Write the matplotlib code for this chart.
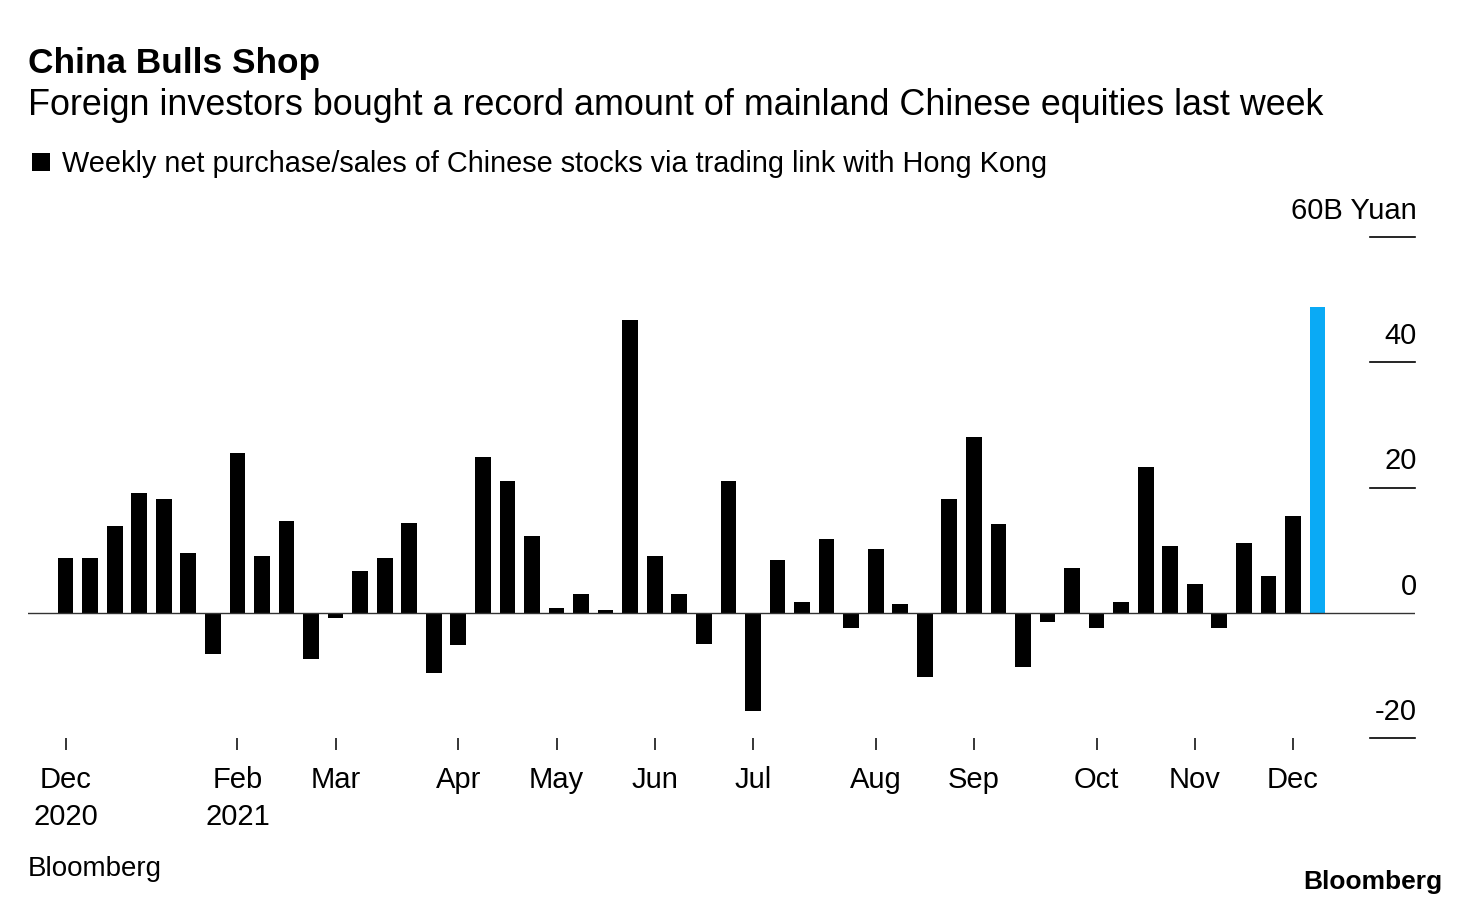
import matplotlib
matplotlib.use("Agg")
import matplotlib.pyplot as plt
from matplotlib.patches import Rectangle

plt.rcParams['font.family'] = ['Liberation Sans', 'DejaVu Sans']

# ---- data ----
net_purchase = [8.7, 8.7, 13.8, 19.1, 18.2, 9.6, -6.6, 25.5, 9.0, 14.7,
                -7.4, -0.8, 6.7, 8.7, 14.4, -9.7, -5.2, 24.9, 21.0, 12.2,
                0.7, 3.0, 0.4, 46.7, 9.0, 3.0, -5.0, 21.0, -15.7, 8.4,
                1.7, 11.8, -2.4, 10.2, 1.4, -10.3, 18.2, 28.1, 14.1, -8.7,
                -1.5, 7.1, -2.4, 1.7, 23.3, 10.6, 4.6, -2.4, 11.2, 5.8,
                15.4, 48.9]
month_tick_weeks = [0, 7, 11, 16, 20, 24, 28, 33, 37, 42, 46, 50]
month_labels = ["Dec\n2020", "Feb\n2021", "Mar", "Apr", "May", "Jun", "Jul",
                "Aug", "Sep", "Oct", "Nov", "Dec"]
y_ticks = [-20, 0, 20, 40, 60]
y_labels = ["-20", "0", "20", "40", "60B Yuan"]

W, H = 1470, 906
fig = plt.figure(figsize=(W / 100, H / 100), dpi=100)
fig.patch.set_facecolor("white")

ax_left, ax_right, ax_top, ax_bot = 28, 1415, 237, 738
ax = fig.add_axes([ax_left / W, 1 - ax_bot / H, (ax_right - ax_left) / W, (ax_bot - ax_top) / H])

x = list(range(len(net_purchase)))
colors = ["#000000"] * len(net_purchase)
colors[-1] = "#0AAAF5"
ax.bar(x, net_purchase, width=0.64, color=colors, zorder=3)

ax.set_xlim(-1.53, 54.97)
ax.set_ylim(-20, 60)

for s in ax.spines.values():
    s.set_visible(False)

# zero line and right-side grid stubs
ax.axhline(0, color="#333333", lw=1.0, zorder=4)
stub_start = (1370 - ax_left) / (ax_right - ax_left)
for v, lab in zip(y_ticks, y_labels):
    if v != 0:
        ax.axhline(v, xmin=stub_start, xmax=1.0, color="#000000", lw=1.2, clip_on=False)
    ax.annotate(lab, xy=(1.0, v), xycoords=("axes fraction", "data"),
                xytext=(1.5, 13), textcoords="offset points",
                ha="right", va="baseline", fontsize=21, color="#000000")

ax.set_yticks([])
ax.set_xticks(month_tick_weeks)
ax.set_xticklabels(month_labels, fontsize=21, linespacing=1.4)
ax.tick_params(axis="x", direction="out", length=8.5, width=1.1, color="#000000", pad=12)

# titles
fig.text(28 / W, 1 - 73 / H, "China Bulls Shop", fontsize=25.4, fontweight="bold",
         ha="left", va="baseline")
fig.text(28 / W, 1 - 115 / H, "Foreign investors bought a record amount of mainland Chinese equities last week",
         fontsize=25.8, ha="left", va="baseline")

# legend
fig.patches.append(Rectangle((32 / W, 1 - 171 / H), 18 / W, 18 / H, transform=fig.transFigure,
                             facecolor="#000000", edgecolor="none"))
fig.text(62 / W, 1 - 172 / H, "Weekly net purchase/sales of Chinese stocks via trading link with Hong Kong",
         fontsize=20.8, ha="left", va="baseline")

# footer
fig.text(28 / W, 1 - 876 / H, "Bloomberg", fontsize=20, ha="left", va="baseline")
fig.text(1442 / W, 1 - 889 / H, "Bloomberg", fontsize=19, fontweight="bold", ha="right", va="baseline")

fig.savefig("out.png", dpi=100, facecolor="white")
